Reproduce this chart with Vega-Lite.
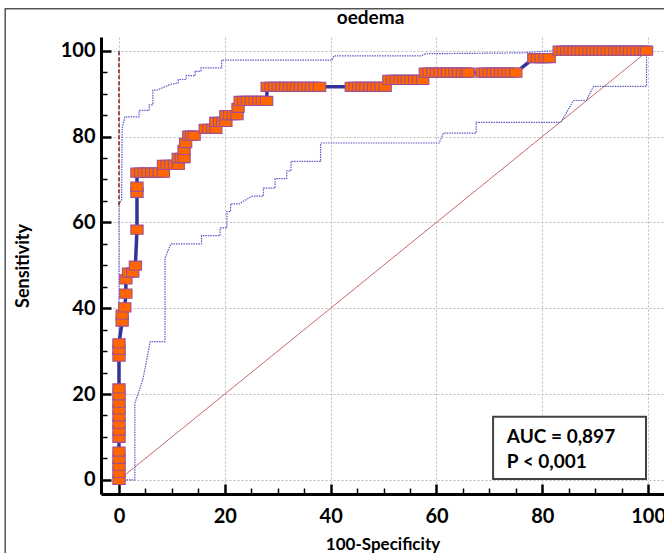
{
  "$schema": "https://vega.github.io/schema/vega-lite/v6.json",
  "width": 563,
  "height": 457,
  "autosize": "none",
  "padding": {"left": 101, "top": 37, "right": 0, "bottom": 59},
  "background": "white",
  "config": {"view": {"stroke": null}, "font": "Lato"},
  "title": {"text": "oedema", "frame": "group", "font": "Lato", "fontSize": 19, "fontWeight": "bold", "color": "black", "offset": -20.5, "dx": -12},
  "datasets": {
    "roc": [
      {"x":0,"y":0},{"x":0,"y":1.6},{"x":0,"y":3.3},{"x":0,"y":4.9},{"x":0,"y":6.6},{"x":0,"y":9.8},{"x":0,"y":11.5},{"x":0,"y":13.1},{"x":0,"y":14.8},{"x":0,"y":16.4},{"x":0,"y":18.0},{"x":0,"y":19.7},{"x":0,"y":21.3},{"x":0,"y":28.7},{"x":0,"y":30.3},{"x":0,"y":31.8},
      {"x":0.6,"y":36.9},{"x":0.6,"y":38.5},{"x":1.1,"y":40.2},{"x":1.3,"y":43.4},{"x":1.3,"y":46.7},{"x":1.8,"y":48.3},{"x":2.6,"y":48.3},{"x":3.1,"y":49.9},{"x":3.4,"y":58.3},{"x":3.4,"y":66.9},{"x":3.4,"y":68.3},
      {"x":3.4,"y":71.6},{"x":4.1,"y":71.6},{"x":4.8,"y":71.6},{"x":5.5,"y":71.6},{"x":6.2,"y":71.6},{"x":6.9,"y":71.6},{"x":7.6,"y":71.6},{"x":8.4,"y":71.6},
      {"x":8.4,"y":73.4},{"x":9.1,"y":73.4},{"x":9.8,"y":73.4},{"x":10.5,"y":73.4},{"x":11.2,"y":73.4},
      {"x":11.2,"y":75.0},{"x":11.8,"y":75.0},{"x":12.3,"y":75.0},
      {"x":12.3,"y":76.9},{"x":12.6,"y":78.5},{"x":13.2,"y":80.2},{"x":13.7,"y":80.2},{"x":14.2,"y":80.2},
      {"x":16.3,"y":81.8},{"x":17.0,"y":81.8},{"x":17.7,"y":81.8},{"x":18.3,"y":81.8},
      {"x":18.3,"y":83.4},{"x":19.0,"y":83.4},{"x":19.6,"y":83.4},{"x":20.2,"y":83.4},
      {"x":20.2,"y":85.0},{"x":20.9,"y":85.0},{"x":21.6,"y":85.0},{"x":22.3,"y":85.0},
      {"x":22.5,"y":86.7},
      {"x":22.9,"y":88.3},{"x":23.6,"y":88.3},{"x":24.3,"y":88.3},{"x":25.0,"y":88.3},{"x":25.7,"y":88.3},{"x":26.4,"y":88.3},{"x":27.1,"y":88.3},{"x":27.9,"y":88.3},
      {"x":28.0,"y":91.6},{"x":28.7,"y":91.6},{"x":29.4,"y":91.6},{"x":30.1,"y":91.6},{"x":30.8,"y":91.6},{"x":31.5,"y":91.6},{"x":32.2,"y":91.6},{"x":32.9,"y":91.6},{"x":33.6,"y":91.6},{"x":34.3,"y":91.6},{"x":35.0,"y":91.6},{"x":35.7,"y":91.6},{"x":36.4,"y":91.6},{"x":37.1,"y":91.6},{"x":37.9,"y":91.6},
      {"x":43.9,"y":91.6},{"x":44.6,"y":91.6},{"x":45.3,"y":91.6},{"x":46.0,"y":91.6},{"x":46.7,"y":91.6},{"x":47.4,"y":91.6},{"x":48.1,"y":91.6},{"x":48.8,"y":91.6},{"x":49.5,"y":91.6},{"x":50.3,"y":91.6},
      {"x":51.0,"y":93.2},{"x":51.7,"y":93.2},{"x":52.4,"y":93.2},{"x":53.1,"y":93.2},{"x":53.8,"y":93.2},{"x":54.5,"y":93.2},{"x":55.2,"y":93.2},{"x":55.9,"y":93.2},{"x":56.6,"y":93.2},{"x":57.4,"y":93.2},
      {"x":57.9,"y":94.9},{"x":58.6,"y":94.9},{"x":59.3,"y":94.9},{"x":60.0,"y":94.9},{"x":60.7,"y":94.9},{"x":61.4,"y":94.9},{"x":62.1,"y":94.9},{"x":62.8,"y":94.9},{"x":63.5,"y":94.9},{"x":64.2,"y":94.9},{"x":64.9,"y":94.9},{"x":65.6,"y":94.9},{"x":66.0,"y":94.9},
      {"x":68.6,"y":94.9},{"x":69.3,"y":94.9},{"x":70.0,"y":94.9},{"x":70.7,"y":94.9},{"x":71.4,"y":94.9},{"x":72.1,"y":94.9},{"x":72.8,"y":94.9},{"x":73.5,"y":94.9},{"x":74.2,"y":94.9},{"x":75.0,"y":94.9},
      {"x":78.4,"y":98.3},{"x":79.1,"y":98.3},{"x":79.8,"y":98.3},{"x":80.5,"y":98.3},{"x":81.3,"y":98.3},
      {"x":83.2,"y":100},{"x":83.9,"y":100},{"x":84.6,"y":100},{"x":85.3,"y":100},{"x":86.0,"y":100},{"x":86.7,"y":100},{"x":87.4,"y":100},{"x":88.1,"y":100},{"x":88.8,"y":100},{"x":89.5,"y":100},{"x":90.2,"y":100},{"x":90.9,"y":100},{"x":91.6,"y":100},{"x":92.3,"y":100},{"x":93.0,"y":100},{"x":93.7,"y":100},{"x":94.4,"y":100},{"x":95.1,"y":100},{"x":95.8,"y":100},{"x":96.5,"y":100},{"x":97.2,"y":100},{"x":97.9,"y":100},{"x":98.6,"y":100},{"x":99.3,"y":100},{"x":99.7,"y":100}
    ],
    "upper": [
      {"x":0,"y":0},{"x":0,"y":64.3},{"x":0.5,"y":65.3},{"x":0.6,"y":82},{"x":1.1,"y":84.6},{"x":3.8,"y":84.6},{"x":3.8,"y":86.1},{"x":5.7,"y":86.1},{"x":5.7,"y":87.4},{"x":6.4,"y":87.4},{"x":6.4,"y":90.8},{"x":7.2,"y":90.8},{"x":9.6,"y":92.1},{"x":11.2,"y":92.5},{"x":11.2,"y":93.3},{"x":12.7,"y":93.3},{"x":12.7,"y":94.2},{"x":14.4,"y":94.2},{"x":14.4,"y":95.2},{"x":15.5,"y":95.2},{"x":15.5,"y":96.0},{"x":19.4,"y":96.0},{"x":19.4,"y":97.8},{"x":40.3,"y":97.8},{"x":40.6,"y":98.8},{"x":57,"y":98.8},{"x":58,"y":99.3},{"x":76,"y":99.5},{"x":82,"y":100},{"x":100,"y":100}
    ],
    "lower": [
      {"x":0,"y":0},{"x":3.0,"y":0},{"x":3.0,"y":17.9},{"x":4.5,"y":23.3},{"x":5.7,"y":31.0},{"x":5.9,"y":32.2},{"x":8.7,"y":32.2},{"x":8.7,"y":51.7},{"x":9.8,"y":55.0},{"x":15.6,"y":55.0},{"x":15.6,"y":56.9},{"x":19.1,"y":56.9},{"x":19.1,"y":58.7},{"x":20.4,"y":58.7},{"x":20.4,"y":62.5},{"x":21.1,"y":62.5},{"x":21.1,"y":64.3},{"x":22.7,"y":64.3},{"x":25.1,"y":66.1},{"x":27.3,"y":66.1},{"x":27.3,"y":68.0},{"x":29.5,"y":68.0},{"x":29.5,"y":70.2},{"x":31.7,"y":70.2},{"x":31.7,"y":72.0},{"x":32.5,"y":72.0},{"x":32.5,"y":74.2},{"x":38.1,"y":74.2},{"x":38.1,"y":78.5},{"x":60.5,"y":78.5},{"x":61.3,"y":80.8},{"x":67.5,"y":80.8},{"x":67.5,"y":83.3},{"x":83.5,"y":83.3},{"x":85.9,"y":88.4},{"x":88.3,"y":88.4},{"x":89.7,"y":91.7},{"x":99.7,"y":91.7},{"x":99.7,"y":100},{"x":100,"y":100}
    ],
    "diag": [{"x":0,"y":0},{"x":100,"y":100}],
    "frame": [{"x":-21.5,"x2":130,"y":109.8,"y2":-30}],
    "cut": [{"x":0,"y":64,"y2":100}],
    "box": [{"x":70.7,"x2":99.6,"y":0.2,"y2":14.7}],
    "annot": [{"label":"AUC = 0,897","x":73.3,"y":10.0},{"label":"P < 0,001","x":73.3,"y":4.2}]
  },
  "encoding": {
    "x": {
      "field": "x", "type": "quantitative",
      "scale": {"domain": [-3.4, 103], "nice": false, "zero": false},
      "axis": {
        "title": "100-Specificity", "titleFont": "Lato", "titleFontSize": 17, "titleFontWeight": "bold", "titleColor": "black", "titlePadding": 6,
        "values": [0,5,10,15,20,25,30,35,40,45,50,55,60,65,70,75,80,85,90,95,100],
        "labelExpr": "datum.value % 20 === 0 ? datum.label : ''",
        "labelFont": "Lato", "labelFontSize": 20, "labelFontWeight": "bold", "labelColor": "black",
        "labelPadding": 22, "labelOverlap": false, "labelFlush": false,
        "domainColor": "black", "domainWidth": 3,
        "tickColor": "black",
        "tickSize": {"condition": {"test": "datum.value % 20 === 0", "value": -10}, "value": -6},
        "tickWidth": {"condition": {"test": "datum.value % 20 === 0", "value": 2.5}, "value": 1.5},
        "grid": true, "gridColor": "#bdbdbd", "gridDash": [2, 2], "gridWidth": 1,
        "gridOpacity": {"condition": {"test": "datum.value % 20 === 0", "value": 1}, "value": 0}
      }
    },
    "y": {
      "field": "y", "type": "quantitative",
      "scale": {"domain": [-3.3, 103.2], "nice": false, "zero": false},
      "axis": {
        "title": "Sensitivity", "titleFont": "Lato", "titleFontSize": 18, "titleFontWeight": "bold", "titleColor": "black", "titlePadding": 28,
        "values": [0,5,10,15,20,25,30,35,40,45,50,55,60,65,70,75,80,85,90,95,100],
        "labelExpr": "datum.value % 20 === 0 ? datum.label : ''",
        "labelFont": "Lato", "labelFontSize": 20, "labelFontWeight": "bold", "labelColor": "black",
        "labelPadding": 16, "labelOverlap": false, "labelFlush": false,
        "domainColor": "black", "domainWidth": 3,
        "tickColor": "black",
        "tickSize": {"condition": {"test": "datum.value % 20 === 0", "value": -10}, "value": -6},
        "tickWidth": {"condition": {"test": "datum.value % 20 === 0", "value": 2.5}, "value": 1.5},
        "grid": true, "gridColor": "#bdbdbd", "gridDash": [2, 2], "gridWidth": 1,
        "gridOpacity": {"condition": {"test": "datum.value % 20 === 0", "value": 1}, "value": 0}
      }
    }
  },
  "layer": [
    {
      "data": {"name": "frame"},
      "mark": {"type": "rect", "fill": null, "stroke": "#555555", "strokeWidth": 1.5},
      "encoding": {"x2": {"field": "x2"}, "y2": {"field": "y2"}}
    },
    {
      "data": {"name": "diag"},
      "mark": {"type": "line", "color": "#c46a6a", "strokeWidth": 1},
      "encoding": {"order": {"value": null}}
    },
    {
      "data": {"name": "upper"},
      "mark": {"type": "line", "color": "#5a5acc", "strokeWidth": 1.2, "strokeDash": [1.5, 1]},
      "encoding": {"order": {"value": null}}
    },
    {
      "data": {"name": "lower"},
      "mark": {"type": "line", "color": "#5a5acc", "strokeWidth": 1.2, "strokeDash": [1.5, 1]},
      "encoding": {"order": {"value": null}}
    },
    {
      "data": {"name": "cut"},
      "mark": {"type": "rule", "color": "#8b1a1a", "strokeWidth": 1.5, "strokeDash": [4, 2]},
      "encoding": {"y2": {"field": "y2"}}
    },
    {
      "data": {"name": "roc"},
      "mark": {"type": "line", "color": "#33339a", "strokeWidth": 3.5},
      "encoding": {"order": {"value": null}}
    },
    {
      "data": {"name": "roc"},
      "mark": {"type": "point", "shape": "M-1,-0.75L1,-0.75L1,0.75L-1,0.75Z", "size": 150, "filled": true, "fill": "#ff6600", "fillOpacity": 1, "stroke": "#a04f94", "strokeWidth": 1.1, "opacity": 1}
    },
    {
      "data": {"name": "box"},
      "mark": {"type": "rect", "fill": "white", "stroke": "#404040", "strokeWidth": 2},
      "encoding": {"x2": {"field": "x2"}, "y2": {"field": "y2"}}
    },
    {
      "data": {"name": "annot"},
      "mark": {"type": "text", "align": "left", "baseline": "middle", "font": "Lato", "fontSize": 19, "fontWeight": "bold", "color": "black"},
      "encoding": {"text": {"field": "label"}}
    }
  ]
}
